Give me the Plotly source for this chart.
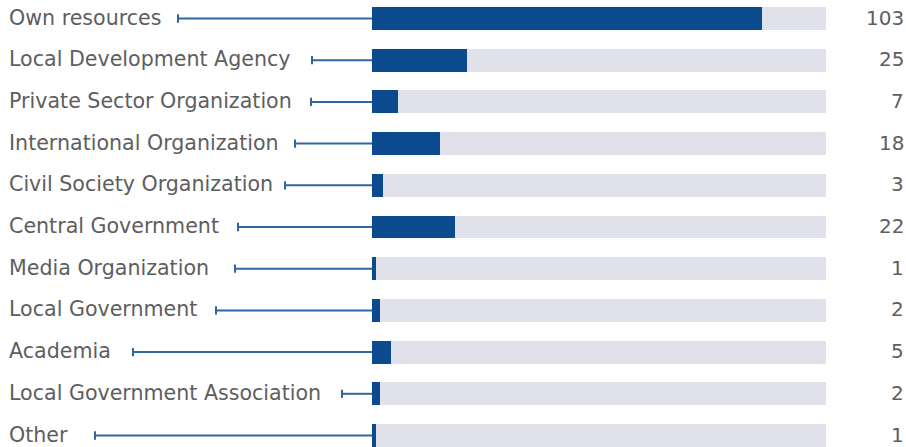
import plotly.graph_objects as go

# Funding sources and number of responses
categories = [
    "Own resources",
    "Local Development Agency",
    "Private Sector Organization",
    "International Organization",
    "Civil Society Organization",
    "Central Government",
    "Media Organization",
    "Local Government",
    "Academia",
    "Local Government Association",
    "Other",
]
counts = [103, 25, 7, 18, 3, 22, 1, 2, 5, 2, 1]
axis_max = 120

# Layout constants (pixels)
W, H = 906, 447
bar_left, bar_right = 372, 826
row_top, row_step = 18.5, 41.7
leader_start_px = [178, 312, 311, 295, 285, 238, 235, 216, 133, 342, 95]

DARK = "#0c4a8e"
TRACK = "#e1e1ec"
LEADER = "#2f66a3"
TEXT = "#5e5e5e"
FONT = "DejaVu Sans"

n = len(categories)
y_idx = list(range(n))
y_top = -row_top / row_step
y_bot = (n - 1) + (H - row_top - (n - 1) * row_step) / row_step

fig = go.Figure()
fig.add_trace(go.Bar(
    y=y_idx, x=[axis_max] * n, orientation="h",
    marker=dict(color=TRACK, line=dict(width=0)),
    width=0.55, hoverinfo="skip", showlegend=False,
))
fig.add_trace(go.Bar(
    y=y_idx, x=counts, orientation="h",
    marker=dict(color=DARK, line=dict(width=0)),
    width=0.55, showlegend=False,
))

shapes = []
annotations = []
for i, (cat, val, lx) in enumerate(zip(categories, counts, leader_start_px)):
    x0 = lx / W
    x1 = bar_left / W
    shapes.append(dict(type="line", xref="paper", yref="y", x0=x0, x1=x1,
                       y0=i, y1=i, line=dict(color=LEADER, width=2), layer="below"))
    shapes.append(dict(type="line", xref="paper", yref="y", x0=x0, x1=x0,
                       y0=i - 0.1, y1=i + 0.1, line=dict(color=LEADER, width=2)))
    annotations.append(dict(x=7 / W, xref="paper", y=i, yref="y", text=cat,
                            xanchor="left", yanchor="middle", showarrow=False,
                            yshift=1,
                            font=dict(family=FONT, size=20.6, color=TEXT)))
    annotations.append(dict(x=906 / W, xref="paper", y=i, yref="y", text=str(val),
                            xanchor="right", yanchor="middle", showarrow=False,
                            yshift=1,
                            font=dict(family=FONT, size=20, color=TEXT)))

fig.update_layout(
    width=W, height=H,
    margin=dict(l=0, r=0, t=0, b=0),
    paper_bgcolor="white", plot_bgcolor="white",
    barmode="overlay", bargap=0,
    xaxis=dict(domain=[bar_left / W, bar_right / W], range=[0, axis_max],
               visible=False, fixedrange=True),
    yaxis=dict(range=[y_bot, y_top], visible=False, fixedrange=True),
    shapes=shapes, annotations=annotations,
)

fig.write_html("out.html")
